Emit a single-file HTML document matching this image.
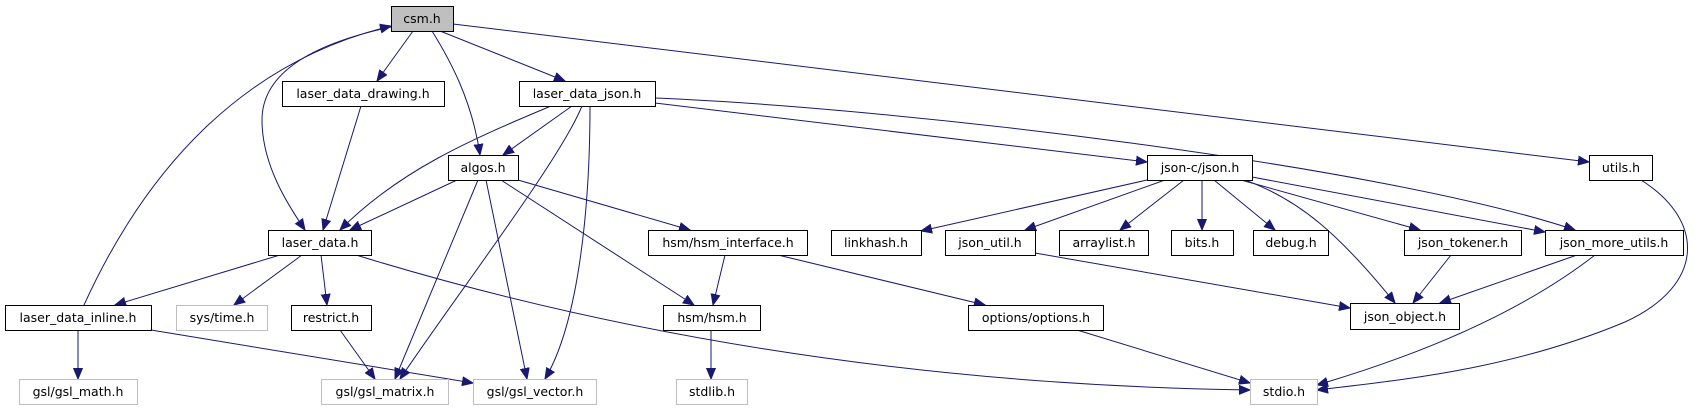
<!DOCTYPE html>
<html><head><meta charset="utf-8"><style>
html,body{margin:0;padding:0;background:#fff;}
svg{display:block;}
text{font-family:"DejaVu Sans","Liberation Sans",sans-serif;font-size:12.5px;fill:#000;text-anchor:middle;}
.n{fill:#fff;stroke:#000;stroke-width:1;}
.g{fill:#fff;stroke:#bfbfbf;stroke-width:1;}
.e{fill:none;stroke:#191970;stroke-width:1;}
</style></head><body>
<svg width="1703" height="411" viewBox="0 0 1703 411" xmlns="http://www.w3.org/2000/svg">
<defs><marker id="a" markerUnits="userSpaceOnUse" markerWidth="12" markerHeight="10" refX="11" refY="5" orient="auto"><path d="M0,0.5 L11,5 L0,9.5 z" fill="#191970" stroke="#191970"/></marker></defs>
<g class="e" marker-end="url(#a)">
<path d="M413,31 L377,81"/>
<path d="M440,31 L565,81"/>
<path d="M432,31 C450,60 472,100 480,155"/>
<path d="M391,27 C330,40 262,65 262,120 C262,165 288,205 305,230"/>
<path d="M453,24 L1589,162"/>
<path d="M84,305 C150,160 250,60 391,26"/>
<path d="M361,106 L323,230"/>
<path d="M551,106 C470,140 400,170 340,230"/>
<path d="M572,106 L503,155"/>
<path d="M582,106 C560,160 460,290 400,379"/>
<path d="M590,106 C590,200 580,320 545,379"/>
<path d="M655,103 L1147,162"/>
<path d="M655,98 C900,108 1380,165 1575,230"/>
<path d="M457,180 L350,230"/>
<path d="M478,180 L395,379"/>
<path d="M486,180 L527,379"/>
<path d="M518,180 L690,230"/>
<path d="M501,180 L694,305"/>
<path d="M280,255 L115,305"/>
<path d="M302,255 L234,305"/>
<path d="M321,255 L327,305"/>
<path d="M356,255 C600,330 900,385 1250,390"/>
<path d="M78,330 L78,379"/>
<path d="M151,330 L473,383"/>
<path d="M340,330 L375,379"/>
<path d="M725,255 L713,305"/>
<path d="M778,255 L985,305"/>
<path d="M711,330 L711,379"/>
<path d="M1077,330 L1250,383"/>
<path d="M1147,180 L921,231"/>
<path d="M1165,180 L1025,230"/>
<path d="M1184,180 L1120,230"/>
<path d="M1202,180 L1202,230"/>
<path d="M1214,180 L1275,230"/>
<path d="M1241,180 L1420,230"/>
<path d="M1252,177 L1545,232"/>
<path d="M1245,180 C1300,200 1340,235 1395,303"/>
<path d="M1035,253 L1350,308"/>
<path d="M1451,255 L1413,303"/>
<path d="M1577,255 L1440,303"/>
<path d="M1595,255 C1550,290 1470,340 1317,385"/>
<path d="M1641,180 C1705,220 1706,285 1625,322 C1510,370 1400,380 1317,390"/>
</g>
<rect x="391.5" y="6.5" width="62" height="25" fill="#bfbfbf" stroke="#000"/><text x="422" y="23">csm.h</text>
<rect class="n" x="282.5" y="81.5" width="162" height="25"/><text x="363" y="98">laser_data_drawing.h</text>
<rect class="n" x="519.5" y="81.5" width="136" height="25"/><text x="587" y="98">laser_data_json.h</text>
<rect class="n" x="448.5" y="155.5" width="70" height="25"/><text x="483" y="172">algos.h</text>
<rect class="n" x="1147.5" y="155.5" width="105" height="25"/><text x="1200" y="172">json-c/json.h</text>
<rect class="n" x="1589.5" y="155.5" width="63" height="25"/><text x="1621" y="172">utils.h</text>
<rect class="n" x="268.5" y="230.5" width="103" height="25"/><text x="320" y="247">laser_data.h</text>
<rect class="n" x="648.5" y="230.5" width="159" height="25"/><text x="728" y="247">hsm/hsm_interface.h</text>
<rect class="n" x="831.5" y="230.5" width="90" height="25"/><text x="876" y="247">linkhash.h</text>
<rect class="n" x="945.5" y="230.5" width="90" height="25"/><text x="990" y="247">json_util.h</text>
<rect class="n" x="1059.5" y="230.5" width="89" height="25"/><text x="1104" y="247">arraylist.h</text>
<rect class="n" x="1171.5" y="230.5" width="62" height="25"/><text x="1202" y="247">bits.h</text>
<rect class="n" x="1253.5" y="230.5" width="75" height="25"/><text x="1291" y="247">debug.h</text>
<rect class="n" x="1404.5" y="230.5" width="117" height="25"/><text x="1463" y="247">json_tokener.h</text>
<rect class="n" x="1545.5" y="230.5" width="138" height="25"/><text x="1614" y="247">json_more_utils.h</text>
<rect class="n" x="5.5" y="305.5" width="146" height="25"/><text x="78" y="322">laser_data_inline.h</text>
<rect class="g" x="176.5" y="305.5" width="91" height="25"/><text x="222" y="322">sys/time.h</text>
<rect class="n" x="291.5" y="305.5" width="80" height="25"/><text x="331" y="322">restrict.h</text>
<rect class="n" x="663.5" y="305.5" width="97" height="25"/><text x="712" y="322">hsm/hsm.h</text>
<rect class="n" x="968.5" y="305.5" width="135" height="25"/><text x="1036" y="322">options/options.h</text>
<rect class="n" x="1350.5" y="303.5" width="109" height="26"/><text x="1405" y="321">json_object.h</text>
<rect class="g" x="19.5" y="379.5" width="118" height="25"/><text x="78" y="396">gsl/gsl_math.h</text>
<rect class="g" x="321.5" y="379.5" width="127" height="25"/><text x="385" y="396">gsl/gsl_matrix.h</text>
<rect class="g" x="473.5" y="379.5" width="123" height="25"/><text x="535" y="396">gsl/gsl_vector.h</text>
<rect class="g" x="676.5" y="379.5" width="71" height="25"/><text x="712" y="396">stdlib.h</text>
<rect class="g" x="1250.5" y="379.5" width="67" height="25"/><text x="1284" y="396">stdio.h</text>
</svg>
</body></html>
